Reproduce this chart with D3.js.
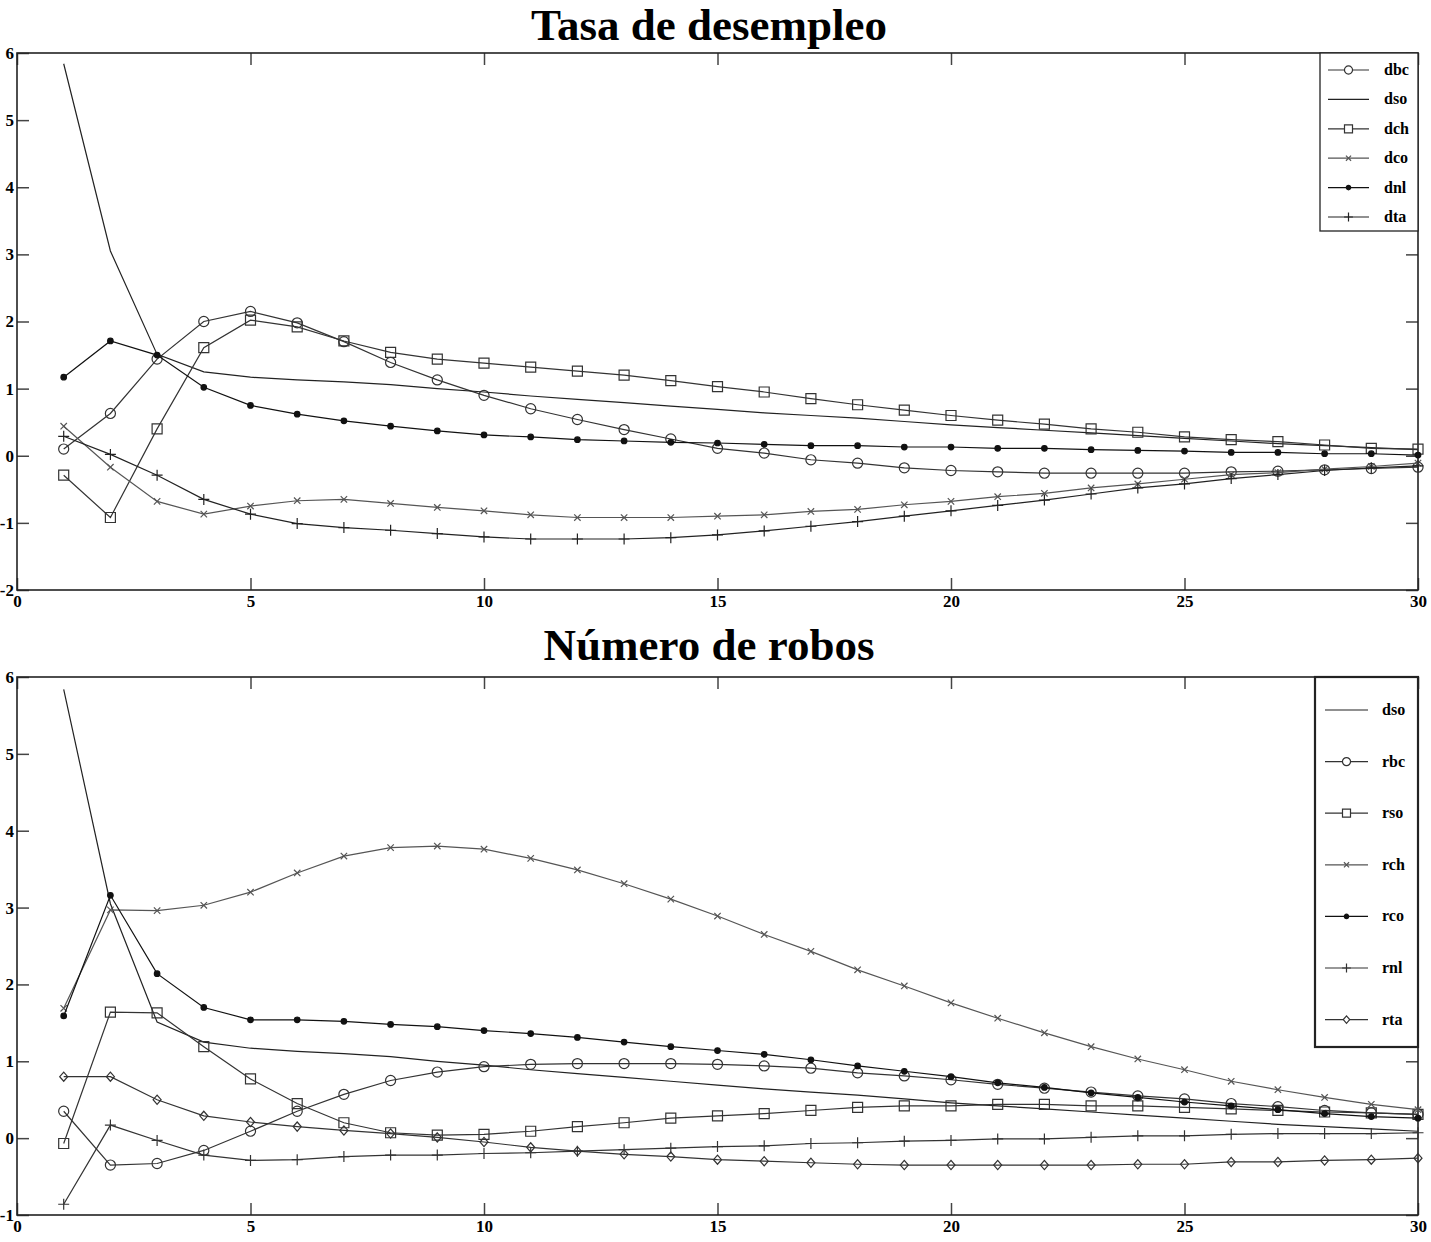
<!DOCTYPE html>
<html>
<head>
<meta charset="utf-8">
<script src="https://cdn.jsdelivr.net/npm/d3@7"></script>
<style>
body { margin: 0; background: #fff; }
text { font-family: "Liberation Serif", "Times New Roman", serif; font-weight: bold; fill: #000; }
</style>
</head>
<body>
<svg width="1431" height="1242"></svg>
<script>
// horizon 1..30
const steps = d3.range(1, 31);
const xTicks = [0, 5, 10, 15, 20, 25, 30];

// Tasa de desempleo
const dbc = [0.10, 0.63, 1.44, 2.00, 2.15, 1.98, 1.70, 1.39, 1.13, 0.90,
             0.70, 0.54, 0.39, 0.25, 0.11, 0.04, -0.06, -0.11, -0.18, -0.22,
             -0.24, -0.26, -0.26, -0.26, -0.26, -0.24, -0.23, -0.21, -0.19, -0.17];
const dso = [5.84, 3.05, 1.51, 1.25, 1.17, 1.13, 1.10, 1.06, 1.00, 0.95,
             0.89, 0.84, 0.79, 0.74, 0.69, 0.64, 0.60, 0.56, 0.51, 0.46,
             0.42, 0.38, 0.34, 0.30, 0.26, 0.22, 0.18, 0.15, 0.12, 0.09];
const dch = [-0.29, -0.92, 0.40, 1.61, 2.02, 1.92, 1.71, 1.54, 1.44, 1.38,
             1.32, 1.26, 1.20, 1.12, 1.03, 0.95, 0.85, 0.76, 0.68, 0.60,
             0.53, 0.47, 0.40, 0.35, 0.28, 0.24, 0.21, 0.16, 0.11, 0.10];
const dco = [0.44, -0.17, -0.68, -0.87, -0.75, -0.67, -0.65, -0.71, -0.77, -0.82,
             -0.88, -0.92, -0.92, -0.92, -0.90, -0.88, -0.83, -0.80, -0.73, -0.68,
             -0.61, -0.56, -0.48, -0.42, -0.35, -0.28, -0.25, -0.20, -0.16, -0.11];
const dnl = [1.17, 1.71, 1.50, 1.02, 0.75, 0.62, 0.52, 0.44, 0.37, 0.31,
             0.28, 0.24, 0.22, 0.20, 0.19, 0.17, 0.15, 0.15, 0.13, 0.13,
             0.11, 0.11, 0.09, 0.08, 0.07, 0.05, 0.05, 0.03, 0.03, 0.01];
const dta = [0.29, 0.02, -0.29, -0.65, -0.87, -1.01, -1.07, -1.11, -1.16, -1.21,
             -1.24, -1.24, -1.24, -1.22, -1.18, -1.12, -1.05, -0.98, -0.90, -0.82,
             -0.74, -0.66, -0.57, -0.48, -0.42, -0.34, -0.28, -0.22, -0.18, -0.15];

// Número de robos
const rbc = [0.35, -0.35, -0.33, -0.16, 0.09, 0.35, 0.57, 0.75, 0.86, 0.93,
             0.96, 0.97, 0.97, 0.97, 0.96, 0.94, 0.91, 0.85, 0.81, 0.76,
             0.70, 0.65, 0.60, 0.55, 0.51, 0.45, 0.41, 0.36, 0.33, 0.31];
const rso = [-0.07, 1.64, 1.63, 1.19, 0.77, 0.45, 0.20, 0.07, 0.04, 0.05,
             0.09, 0.15, 0.20, 0.26, 0.29, 0.32, 0.36, 0.40, 0.42, 0.42,
             0.44, 0.44, 0.42, 0.42, 0.40, 0.38, 0.36, 0.34, 0.33, 0.31];
const rch = [1.69, 2.97, 2.96, 3.03, 3.20, 3.45, 3.67, 3.78, 3.80, 3.76,
             3.64, 3.49, 3.31, 3.11, 2.89, 2.65, 2.43, 2.19, 1.98, 1.76,
             1.56, 1.37, 1.19, 1.03, 0.89, 0.74, 0.63, 0.53, 0.44, 0.37];
const rco = [1.59, 3.16, 2.14, 1.70, 1.54, 1.54, 1.52, 1.48, 1.45, 1.40,
             1.36, 1.31, 1.25, 1.19, 1.14, 1.09, 1.02, 0.94, 0.87, 0.80,
             0.72, 0.66, 0.59, 0.53, 0.47, 0.42, 0.37, 0.32, 0.28, 0.26];
const rnl = [-0.86, 0.17, -0.03, -0.22, -0.29, -0.28, -0.24, -0.22, -0.22, -0.20,
             -0.19, -0.17, -0.15, -0.13, -0.11, -0.10, -0.07, -0.06, -0.04, -0.03,
             -0.01, -0.01, 0.01, 0.03, 0.03, 0.05, 0.06, 0.06, 0.06, 0.07];
const rta = [0.80, 0.80, 0.50, 0.29, 0.21, 0.15, 0.10, 0.06, 0.01, -0.05,
             -0.12, -0.17, -0.21, -0.24, -0.28, -0.30, -0.32, -0.34, -0.35, -0.35,
             -0.35, -0.35, -0.35, -0.34, -0.34, -0.31, -0.31, -0.29, -0.28, -0.26];

// marker shapes, scaled by k
function markerPath(type, k) {
    if (type == "circle") return d3.symbol(d3.symbolCircle, 80 * k * k)();
    if (type == "square") return d3.symbol(d3.symbolSquare, 100 * k * k)();
    if (type == "plus") { const a = 5.5 * k; return `M${-a},0H${a}M0,${-a}V${a}`; }
    if (type == "x") { const a = 3.2 * k; return `M${-a},${-a}L${a},${a}M${-a},${a}L${a},${-a}`; }
    if (type == "diamond") { const a = 4 * k, b = 4.6 * k; return `M0,${-b}L${a},0L0,${b}L${-a},0Z`; }
    if (type == "dot") return d3.symbol(d3.symbolCircle, 24 * k * k)();
    return null;
}

const svg = d3.select("svg");
svg.append("rect").attr("width", 1431).attr("height", 1242).attr("fill", "#fff");

const x = d3.scaleLinear().domain([0, 30]).range([17, 1418]);

function drawPanel(p) {
    const y = d3.scaleLinear().domain(p.yDomain).range([p.bottom, p.top]);
    const g = svg.append("g");
    const yTicks = d3.range(p.yDomain[0], p.yDomain[1] + 1);

    g.append("text")
        .attr("x", 709).attr("y", p.titleY)
        .attr("text-anchor", "middle")
        .style("font-size", "45px")
        .text(p.title);

    // axes with inward ticks on all four sides
    const axes = [
        { ax: d3.axisLeft(y).tickValues(yTicks).tickFormat(d => String(d)), t: `translate(${x(0)},0)` },
        { ax: d3.axisRight(y).tickValues(yTicks).tickFormat(""), t: `translate(${x(30)},0)` },
        { ax: d3.axisBottom(x).tickValues(xTicks).tickFormat(d => String(d)), t: `translate(0,${p.bottom})` },
        { ax: d3.axisTop(x).tickValues(xTicks).tickFormat(""), t: `translate(0,${p.top})` }
    ];
    axes.forEach((a, i) => {
        const ag = g.append("g").attr("transform", a.t)
            .call(a.ax.tickSize(-12).tickPadding(i == 2 ? 5 : 3));
        ag.select(".domain").remove();
        ag.selectAll("line").attr("stroke", "#444").attr("stroke-width", 1.5);
        ag.selectAll("text").style("font-size", "17px").attr("font-family", null);
    });

    g.append("rect")
        .attr("x", x(0)).attr("y", p.top)
        .attr("width", x(30) - x(0)).attr("height", p.bottom - p.top)
        .attr("fill", "none").attr("stroke", "#222").attr("stroke-width", 1.6);

    const line = d3.line().x((d, i) => x(steps[i])).y(d => y(d));

    p.series.forEach(s => {
        const sg = g.append("g");
        sg.append("path")
            .attr("d", line(s.values))
            .attr("fill", "none")
            .attr("stroke", s.color)
            .attr("stroke-width", 1.2);
        if (s.marker) {
            const filled = s.marker == "dot";
            sg.selectAll("path.m")
                .data(s.values)
                .join("path")
                .attr("class", "m")
                .attr("transform", (d, i) => `translate(${x(steps[i])},${y(d)})`)
                .attr("d", markerPath(s.marker, 1))
                .attr("fill", filled ? s.color : "none")
                .attr("stroke", s.color)
                .attr("stroke-width", 1.2);
        }
    });

    // legend
    const L = p.legend;
    const lg = g.append("g");
    lg.append("rect")
        .attr("x", L.x0).attr("y", p.top)
        .attr("width", x(30) - L.x0).attr("height", L.y1 - p.top)
        .attr("fill", "#fff").attr("stroke", "#222").attr("stroke-width", L.stroke);
    p.series.forEach((s, i) => {
        const ry = L.firstY + i * L.step;
        lg.append("line")
            .attr("x1", L.lineX0).attr("x2", L.lineX1)
            .attr("y1", ry).attr("y2", ry)
            .attr("stroke", s.color).attr("stroke-width", 1.2);
        if (s.marker) {
            lg.append("path")
                .attr("transform", `translate(${(L.lineX0 + L.lineX1) / 2},${ry})`)
                .attr("d", markerPath(s.marker, 0.8))
                .attr("fill", s.marker == "dot" ? s.color : "#fff")
                .attr("stroke", s.color)
                .attr("stroke-width", 1.2);
        }
        lg.append("text")
            .attr("x", L.textX).attr("y", ry + 5)
            .style("font-size", "16px")
            .text(s.name);
    });
}

drawPanel({
    title: "Tasa de desempleo",
    titleY: 40,
    top: 53, bottom: 590,
    yDomain: [-2, 6],
    series: [
        { name: "dbc", values: dbc, marker: "circle", color: "#333" },
        { name: "dso", values: dso, marker: null, color: "#222" },
        { name: "dch", values: dch, marker: "square", color: "#333" },
        { name: "dco", values: dco, marker: "x", color: "#555" },
        { name: "dnl", values: dnl, marker: "dot", color: "#111" },
        { name: "dta", values: dta, marker: "plus", color: "#222" }
    ],
    legend: { x0: 1320, y1: 231, stroke: 1.3, firstY: 70, step: 29.4, lineX0: 1328, lineX1: 1369, textX: 1384 }
});

drawPanel({
    title: "Número de robos",
    titleY: 660,
    top: 677, bottom: 1215,
    yDomain: [-1, 6],
    series: [
        { name: "dso", values: dso, marker: null, color: "#222" },
        { name: "rbc", values: rbc, marker: "circle", color: "#333" },
        { name: "rso", values: rso, marker: "square", color: "#333" },
        { name: "rch", values: rch, marker: "x", color: "#555" },
        { name: "rco", values: rco, marker: "dot", color: "#111" },
        { name: "rnl", values: rnl, marker: "plus", color: "#333" },
        { name: "rta", values: rta, marker: "diamond", color: "#333" }
    ],
    legend: { x0: 1315, y1: 1047, stroke: 2.2, firstY: 710, step: 51.6, lineX0: 1325, lineX1: 1368, textX: 1382 }
});
</script>
</body>
</html>
